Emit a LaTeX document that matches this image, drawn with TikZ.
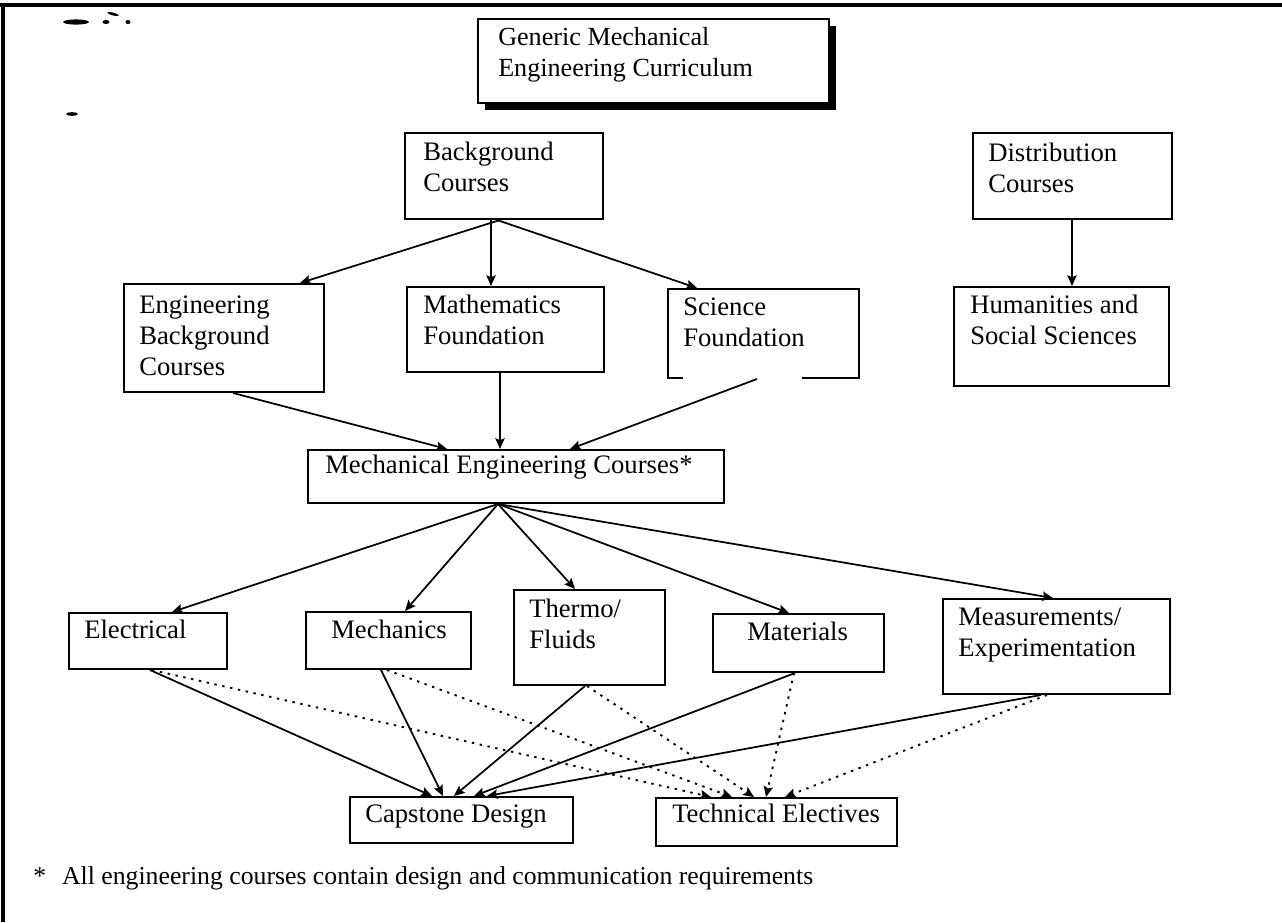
\documentclass[tikz,border=0pt]{standalone}
\usepackage{fontspec}
\setmainfont{Liberation Serif}
\usetikzlibrary{arrows.meta,calc,shadows}
\newcommand{\mkbox}[5]{\node[box,minimum width={(#4-#2)*0.75pt},minimum height={(#5-#3)*0.75pt}] (#1) at (#2,#3) {};}
\newcommand{\twoline}[2]{\begin{tabular}[t]{@{}l@{}}#1\\#2\end{tabular}}
\newcommand{\threeline}[3]{\begin{tabular}[t]{@{}l@{}}#1\\#2\\#3\end{tabular}}
\begin{document}
\begin{tikzpicture}[x=0.75pt,y=-0.75pt,
  box/.style={draw,line width=1.5pt,rectangle,inner sep=0pt,anchor=north west,fill=white},
  lbl/.style={anchor=base west,inner sep=0pt,font=\fontsize{20}{23.25}\selectfont},
  conn/.style={line width=1.3pt,-{Stealth[length=8pt,width=7pt,inset=1.4pt]}},
  dotconn/.style={conn,line width=1.4pt,dash pattern=on 1.8pt off 4.2pt},
  frame/.style={line width=3pt}]
\useasboundingbox (0,0) rectangle (1282,922);
% page frame (top and left edges only)
\draw[frame] (0,5) -- (1282,5);
\draw[line width=2.4pt] (3,5) -- (3,922);
% scan marks
\fill (76,22) ellipse [x radius=13, y radius=2.6];
\fill[rotate around={-15:(113,14)}] (113,14) ellipse [x radius=6, y radius=1.4];
\fill (106,22) ellipse [x radius=3.5, y radius=2];
\fill (128,22) ellipse [x radius=2.5, y radius=2];
\fill (72,114) ellipse [x radius=6, y radius=1.8];

% title box with shadow
\node[box,minimum width={(828-477)*0.75pt},minimum height={(102-18)*0.75pt},
  general shadow={fill=black,shadow xshift=5.5pt,shadow yshift=-5.5pt}] (title) at (477,18) {};
\node[lbl,font=\fontsize{19.6}{23.6}\selectfont] (titlet) at (498,45) {\twoline{Generic Mechanical}{Engineering Curriculum}};

% boxes
\mkbox{bg}{404}{132}{602}{218}
\mkbox{dist}{972}{132}{1171}{218}
\mkbox{engbg}{123}{283}{323}{391}
\mkbox{math}{406}{286}{603}{371}
\mkbox{sci}{667}{288}{858}{377}
\mkbox{hum}{953}{286}{1168}{385}
\mkbox{mech}{307}{449}{723}{502}
\mkbox{elec}{68}{612}{226}{668}
\mkbox{mechs}{305}{611}{470}{668}
\mkbox{thermo}{513}{589}{664}{684}
\mkbox{matl}{712}{613}{883}{671}
\mkbox{meas}{942}{598}{1169}{693}
\mkbox{cap}{349}{796}{572}{842}
\mkbox{tech}{655}{797}{896}{845}
% gap in the bottom edge of Science Foundation
\draw[white,line width=3pt] ($(sci.south west)+(16,0)$) -- ($(sci.south west)+(135,0)$);

% labels
\node[lbl] (bgt) at (423,160) {\twoline{Background}{Courses}};
\node[lbl] (distt) at (988,161) {\twoline{Distribution}{Courses}};
\node[lbl] (engbgt) at (139,313) {\threeline{Engineering}{Background}{Courses}};
\node[lbl] (matht) at (423,313) {\twoline{Mathematics}{Foundation}};
\node[lbl] (scit) at (683,315) {\twoline{Science}{Foundation}};
\node[lbl] (humt) at (970,313) {\twoline{Humanities and}{Social Sciences}};
\node[lbl] (mecht) at (325,473) {Mechanical Engineering Courses*};
\node[lbl] (elect) at (84,638) {Electrical};
\node[lbl] (mechst) at (331,638) {Mechanics};
\node[lbl] (thermot) at (529,617) {\twoline{Thermo/}{Fluids}};
\node[lbl] (matlt) at (747,640) {Materials};
\node[lbl] (meast) at (958,625) {\twoline{Measurements/}{Experimentation}};
\node[lbl] (capt) at (365,822) {Capstone Design};
\node[lbl] (techt) at (672,822) {Technical Electives};
\node[lbl,font=\fontsize{19.3}{22}\selectfont] (foot) at (33,884) {*\hspace{12pt}All engineering courses contain design and communication requirements};

% connectors: top
\draw[conn] ($(bg.south west)+(96,0)$) -- ($(engbg.north west)+(177,0)$);
\draw[conn] ($(bg.south west)+(87,0)$) -- ($(math.north west)+(85,0)$);
\draw[conn] ($(bg.south west)+(93,0)$) -- ($(sci.north west)+(30,0)$);
\draw[conn] ($(dist.south west)+(100,0)$) -- ($(hum.north west)+(119,0)$);
\draw[conn] ($(engbg.south west)+(110,0)$) -- ($(mech.north west)+(140,0)$);
\draw[conn] ($(math.south west)+(94,0)$) -- ($(mech.north west)+(193,0)$);
\draw[conn] ($(sci.south west)+(90,0)$) -- ($(mech.north west)+(263,0)$);
% from mechanical engineering courses
\draw[conn] ($(mech.south west)+(191,0)$) -- ($(elec.north west)+(104,0)$);
\draw[conn] ($(mech.south west)+(191,0)$) -- ($(mechs.north west)+(100,0)$);
\draw[conn] ($(mech.south west)+(191,0)$) -- ($(thermo.north west)+(62,0)$);
\draw[conn] ($(mech.south west)+(191,0)$) -- ($(matl.north west)+(77,0)$);
\draw[conn] ($(mech.south west)+(191,0)$) -- ($(meas.north west)+(111,0)$);
% to capstone design
\draw[conn] ($(elec.south west)+(82,0)$) -- ($(cap.north west)+(83,0)$);
\draw[conn] ($(mechs.south west)+(76,0)$) -- ($(cap.north west)+(94,0)$);
\draw[conn] ($(thermo.south west)+(72,0)$) -- ($(cap.north west)+(105,0)$);
\draw[conn] ($(matl.south west)+(83,0)$) -- ($(cap.north west)+(125,0)$);
\draw[conn] ($(meas.south west)+(99,0)$) -- ($(cap.north west)+(138,0)$);
% to technical electives
\draw[dotconn] ($(elec.south west)+(84,0)$) -- ($(tech.north west)+(56,0)$);
\draw[dotconn] ($(mechs.south west)+(82,0)$) -- ($(tech.north west)+(77,0)$);
\draw[dotconn] ($(thermo.south west)+(74,0)$) -- ($(tech.north west)+(99,0)$);
\draw[dotconn] ($(matl.south west)+(82,0)$) -- ($(tech.north west)+(111,0)$);
\draw[dotconn] ($(meas.south west)+(105,0)$) -- ($(tech.north west)+(130,0)$);
\end{tikzpicture}
\end{document}
